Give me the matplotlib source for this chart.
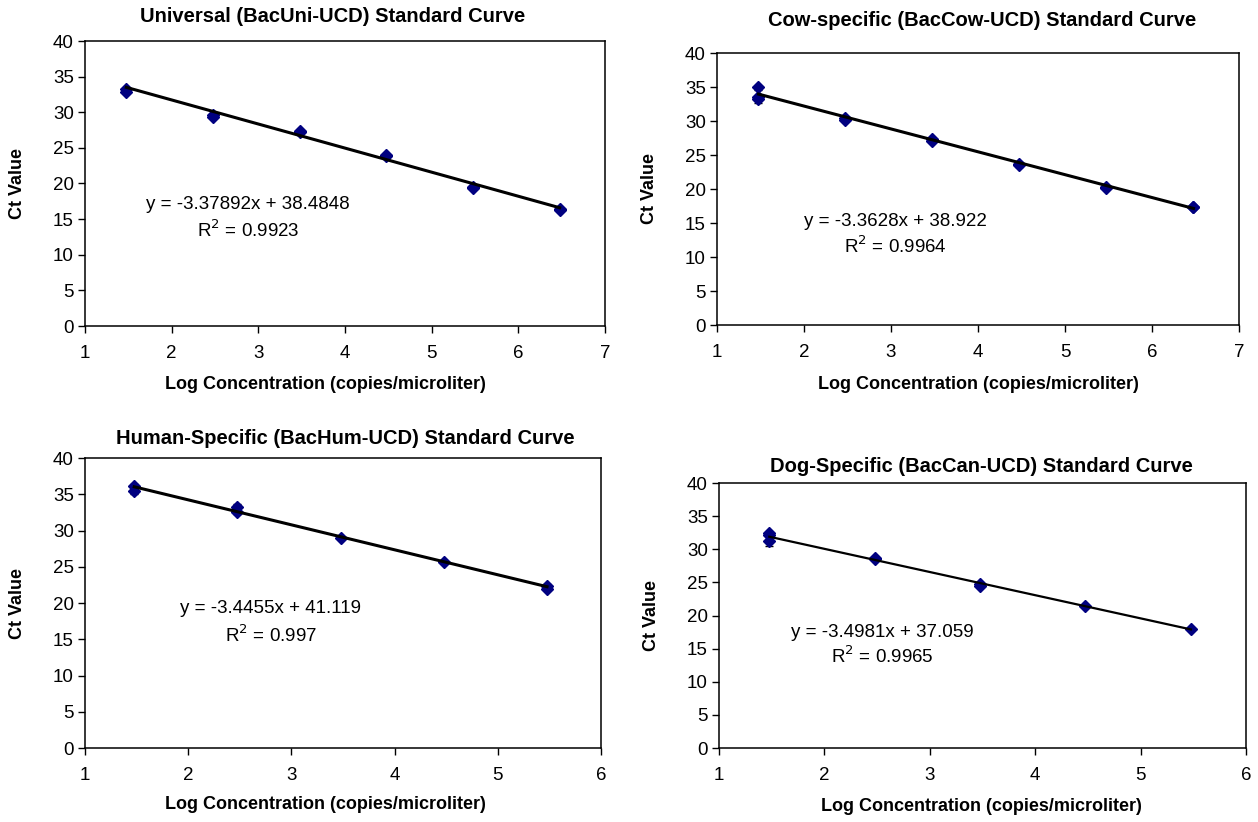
import numpy as np
import matplotlib
matplotlib.use('Agg')
import matplotlib.pyplot as plt

plt.rcParams['font.family'] = ['Liberation Sans', 'DejaVu Sans']

W, H = 1258, 822

# log10 of 30, 300, 3000 ... copies
uni_x = [1.477, 1.477, 2.477, 2.477, 3.477, 3.477, 4.477, 4.477, 5.477, 5.477, 6.477, 6.477]
uni_ct = [33.2, 32.9, 29.6, 29.4, 27.4, 27.2, 24.0, 23.8, 19.5, 19.3, 16.45, 16.35]
uni_sd = [0.2, 0.2, 0.1, 0.1, 0.1, 0.1, 0.2, 0.2, 0.1, 0.1, 0.1, 0.1]
uni_fit = (-3.37892, 38.4848)

cow_x = [1.477, 1.477, 1.477, 2.477, 2.477, 3.477, 3.477, 4.477, 4.477, 5.477, 5.477, 6.477, 6.477]
cow_ct = [35.0, 33.6, 33.3, 30.4, 30.2, 27.3, 27.1, 23.7, 23.5, 20.3, 20.1, 17.4, 17.3]
cow_sd = [0.1, 0.9, 0.1, 0.1, 0.1, 0.1, 0.1, 0.2, 0.2, 0.1, 0.1, 0.1, 0.1]
cow_fit = (-3.3628, 38.922)

hum_x = [1.477, 1.477, 2.477, 2.477, 3.477, 4.477, 5.477, 5.477]
hum_ct = [36.1, 35.4, 33.3, 32.6, 29.0, 25.7, 22.4, 22.0]
hum_sd = [0.3, 0.3, 0.3, 0.3, 0.1, 0.1, 0.2, 0.2]
hum_fit = (-3.4455, 41.119)

dog_x = [1.477, 1.477, 1.477, 2.477, 2.477, 3.477, 3.477, 4.477, 5.477]
dog_ct = [32.5, 32.2, 31.3, 28.7, 28.5, 24.8, 24.5, 21.45, 17.9]
dog_sd = [0.1, 0.1, 0.8, 0.1, 0.1, 0.1, 0.1, 0.1, 0.05]
dog_fit = (-3.4981, 37.059)

titles = ['Universal (BacUni-UCD) Standard Curve',
          'Cow-specific (BacCow-UCD) Standard Curve',
          'Human-Specific (BacHum-UCD) Standard Curve',
          'Dog-Specific (BacCan-UCD) Standard Curve']
r2 = ['0.9923', '0.9964', '0.997', '0.9965']

fig = plt.figure(figsize=(W / 100, H / 100), dpi=100)

def box(l, t, r, b):
    return [l / W, 1 - b / H, (r - l) / W, (b - t) / H]

panels = [
    # axes box px, xmax, data, fit, eq pos (data), title pos px, xlabel pos px, line width
    (box(85, 41, 605, 326), 7, uni_x, uni_ct, uni_sd, uni_fit, (2.88, 17.0), (333, 17), (325, 384), 2.2),
    (box(717, 53, 1239, 325), 7, cow_x, cow_ct, cow_sd, cow_fit, (3.05, 15.2), (982, 20), (978, 384), 2.2),
    (box(85, 458, 601, 748), 6, hum_x, hum_ct, hum_sd, hum_fit, (2.8, 19.2), (345, 438), (325, 804), 2.2),
    (box(719, 483, 1246, 748), 6, dog_x, dog_ct, dog_sd, dog_fit, (2.55, 17.4), (981, 466), (981, 806), 1.6),
]

for i, (pos, xmax, xs, ys, es, fit, eqpos, tpos, xlp, lw) in enumerate(panels):
    ax = fig.add_axes(pos)
    ax.errorbar(xs, ys, yerr=es, fmt='D', color='#000080', ms=6.5,
                ecolor='black', elinewidth=1, capsize=3, zorder=3)
    xl = np.array([min(xs), max(xs)])
    ax.plot(xl, fit[0] * xl + fit[1], color='black', lw=lw, zorder=4)
    ax.set_xlim(1, xmax)
    ax.set_ylim(0, 40)
    ax.set_xticks(range(1, xmax + 1))
    ax.set_yticks(range(0, 41, 5))
    ax.tick_params(direction='out', length=5, width=1, labelsize=13.5)
    ax.tick_params(axis='x', pad=9)
    ax.tick_params(axis='y', pad=3)
    for s in ax.spines.values():
        s.set_linewidth(1.1)
    sign = '-' if fit[0] < 0 else ''
    ax.text(eqpos[0], eqpos[1], 'y = %s%gx + %g' % (sign, abs(fit[0]), fit[1]),
            ha='center', va='center', fontsize=13.5)
    ax.text(eqpos[0], eqpos[1] - 3.6, 'R$^2$ = ' + r2[i],
            ha='center', va='center', fontsize=13.5)
    fig.text(tpos[0] / W, 1 - tpos[1] / H, titles[i], ha='center', va='center',
             fontsize=14.5, fontweight='bold')
    fig.text(xlp[0] / W, 1 - xlp[1] / H, 'Log Concentration (copies/microliter)', ha='center',
             va='center', fontsize=13, fontweight='bold')
    fig.text((pos[0] * W - 67) / W, pos[1] + pos[3] / 2, 'Ct Value', rotation=90,
             ha='center', va='center', fontsize=13, fontweight='bold')

fig.savefig('out.png', dpi=100)
